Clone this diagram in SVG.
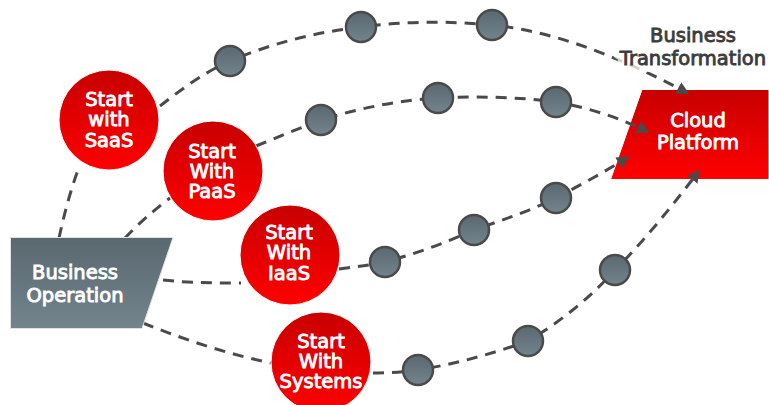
<svg xmlns="http://www.w3.org/2000/svg" width="769" height="405" viewBox="0 0 769 405">
<style>
text{font-family:"DejaVu Sans",Verdana,sans-serif;font-size:19.500px;text-anchor:middle;stroke-width:.9px}
.w{fill:#fff;stroke:#fff}
.d{fill:#3c3c3c;stroke:#3c3c3c}
.l{fill:none;stroke:#4a4a4a;stroke-width:3;stroke-dasharray:11 8}
.r{fill:url(#red);stroke:#fff;stroke-width:1}
.s{fill:url(#gray);stroke:#4a4a4a;stroke-width:2.5}
.halo{fill:none;stroke:#fff;stroke-width:14px;stroke-linejoin:round;opacity:.75}
</style>
<defs>
<linearGradient id="red" x1="0" y1="0" x2="0" y2="1"><stop offset="0" stop-color="#c80000"/><stop offset="1" stop-color="#ff0000"/></linearGradient>
<linearGradient id="gray" x1="0" y1="0" x2="0" y2="1"><stop offset="0" stop-color="#5a6870"/><stop offset="1" stop-color="#73848c"/></linearGradient>
<marker id="a" markerUnits="userSpaceOnUse" markerWidth="14" markerHeight="14" refX="11" refY="6.500" orient="auto"><path d="M0 0L12 6.500L0 13z" fill="#4a4a4a"/></marker>
</defs>
<g id="cloud-platform">
<path class="r" d="M642 89.500H769V179.500H610.500z"/>
<text class="w" x="698" y="127">Cloud</text>
<text class="w" x="698" y="149">Platform</text>
</g>
<g id="connectors">
<path class="l" d="M160 106C183 88 205 72 230 61C275 42 318 32 361 27C405 21 450 21 492 25C560 32 625 60 688 93" marker-end="url(#a)"/>
<path class="l" d="M256 146C278 137 300 128 321 120C360 108 400 100 438 98C478 96 518 97 556 102C590 108 620 118 648 132" marker-end="url(#a)"/>
<path class="l" d="M339 269C355 267 370 265 385 262C415 254 445 243 474 230C502 220 530 211 556 198C580 185 605 172 628 157" marker-end="url(#a)"/>
<path class="l" d="M373 373C388 373 403 372 418 370C455 364 492 354 528 341C560 322 590 298 615 270C645 240 672 206 699 171" marker-end="url(#a)"/>
<path class="l" d="M59 238C64 215 70 192 78 170"/>
<path class="l" d="M125 238C138 224 153 211 170 198"/>
<path class="l" d="M163 280C190 283 215 283 241 283"/>
<path class="l" d="M143 323C185 340 228 354 271 363"/>
</g>
<g id="business-transformation">
<text class="halo" x="693" y="42">Business</text>
<text class="halo" x="693" y="65">Transformation</text>
<text class="d" x="693" y="42">Business</text>
<text class="d" x="693" y="65">Transformation</text>
</g>
<g id="business-operation">
<path d="M10.500 237.500H173L142 328.500H10.500z" fill="url(#gray)" stroke="#dfe3e5"/>
<text class="w" x="75" y="279">Business</text>
<text class="w" x="75" y="302">Operation</text>
</g>
<g id="start-saas"><circle class="r" cx="109" cy="120" r="50"/><text class="w" x="109" y="106">Start</text><text class="w" x="109" y="126">with</text><text class="w" x="109" y="147">SaaS</text></g>
<g id="start-paas"><circle class="r" cx="213" cy="171" r="50"/><text class="w" x="212" y="158">Start</text><text class="w" x="212" y="178">With</text><text class="w" x="212" y="198">PaaS</text></g>
<g id="start-iaas"><circle class="r" cx="290" cy="255" r="50"/><text class="w" x="289" y="239">Start</text><text class="w" x="289" y="259">With</text><text class="w" x="289" y="280">IaaS</text></g>
<g id="start-systems"><circle class="r" cx="321" cy="362" r="50"/><text class="w" x="321" y="348">Start</text><text class="w" x="321" y="368">With</text><text class="w" x="321" y="388">Systems</text></g>
<g id="steps">
<circle class="s" cx="230" cy="61" r="15"/><circle class="s" cx="361" cy="27" r="15"/><circle class="s" cx="492" cy="25" r="15"/>
<circle class="s" cx="321" cy="120" r="15"/><circle class="s" cx="438" cy="98" r="15"/><circle class="s" cx="556" cy="102" r="15"/>
<circle class="s" cx="385" cy="262" r="15"/><circle class="s" cx="474" cy="230" r="15"/><circle class="s" cx="556" cy="198" r="15"/>
<circle class="s" cx="418" cy="370" r="15"/><circle class="s" cx="528" cy="341" r="15"/><circle class="s" cx="615" cy="270" r="15"/>
</g>
</svg>
